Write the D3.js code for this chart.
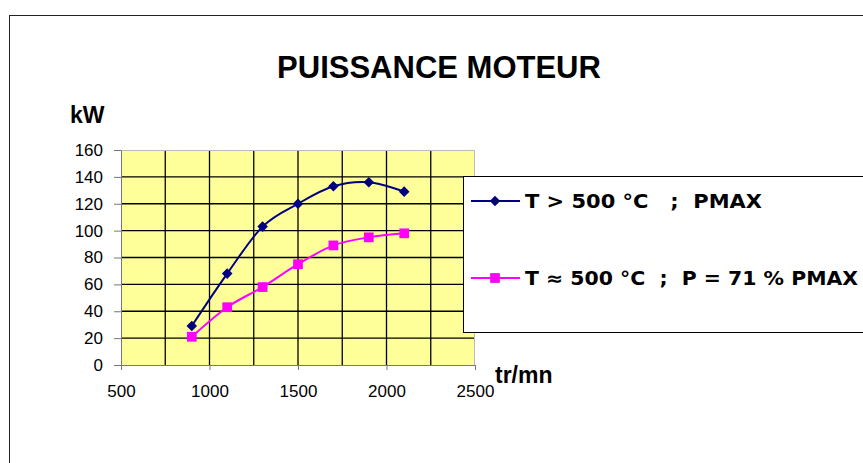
<!DOCTYPE html>
<html>
<head>
<meta charset="utf-8">
<script src="https://cdn.jsdelivr.net/npm/d3@7"></script>
<style>
  body { margin: 0; background: #fff; }
  svg { display: block; }
</style>
</head>
<body>
<div id="chart"></div>
<script>
'use strict';

// values
var regimes = [900, 1100, 1300, 1500, 1700, 1900, 2100];   // tr/mn
var pmax = [29, 68, 103, 120, 133, 136, 129];              // kW, T > 500 °C
var p71 = [21, 43, 58, 75, 89, 95, 98];                    // kW, T ≈ 500 °C
var seriesNames = ['T > 500 °C   ;  PMAX', 'T ≈ 500 °C  ;  P = 71 % PMAX'];
var xTicks = [500, 1000, 1500, 2000, 2500];
var yTicks = [0, 20, 40, 60, 80, 100, 120, 140, 160];

var W = 863, H = 463;
var plot = {left: 121, right: 475, top: 150, bottom: 365};
var FONT = '"Liberation Sans", Arial, sans-serif';

var svg = d3.select('#chart').append('svg')
  .attr('width', W).attr('height', H);

// outer chart frame (runs past the window on the right and bottom)
svg.append('rect')
  .attr('x', 9.5).attr('y', 15.5).attr('width', 900).attr('height', 500)
  .attr('fill', '#fff').attr('stroke', '#222').attr('stroke-width', 1);

svg.append('text')
  .attr('x', 439).attr('y', 77.5)
  .attr('text-anchor', 'middle')
  .style('font-family', FONT)
  .style('font-weight', 'bold').style('font-size', '31px')
  .text('PUISSANCE MOTEUR');

svg.append('text')
  .attr('x', 70).attr('y', 123)
  .style('font-family', FONT)
  .style('font-weight', 'bold').style('font-size', '23px')
  .text('kW');

svg.append('text')
  .attr('x', 495).attr('y', 383)
  .style('font-family', FONT)
  .style('font-weight', 'bold').style('font-size', '23px')
  .text('tr/mn');

var x = d3.scaleLinear().domain([500, 2500]).range([plot.left, plot.right]);
var y = d3.scaleLinear().domain([0, 160]).range([plot.bottom, plot.top]);

// plot area
svg.append('rect')
  .attr('x', plot.left).attr('y', plot.top)
  .attr('width', plot.right - plot.left).attr('height', plot.bottom - plot.top)
  .attr('fill', '#ffff99');

// grid
var grid = svg.append('g').attr('stroke', '#000').attr('stroke-width', 1.3);
grid.selectAll('line.v').data(d3.range(750, 2500, 250)).enter().append('line')
  .attr('x1', d => x(d)).attr('x2', d => x(d))
  .attr('y1', plot.top).attr('y2', plot.bottom);
grid.selectAll('line.h').data(yTicks.filter(d => d > 0 && d < 160)).enter().append('line')
  .attr('x1', plot.left).attr('x2', plot.right)
  .attr('y1', d => y(d)).attr('y2', d => y(d));

// plot area border (top/right light grey)
svg.append('path')
  .attr('d', 'M' + plot.left + ',' + (plot.top + 0.5) + 'H' + (plot.right - 0.5) + 'V' + plot.bottom)
  .attr('fill', 'none').attr('stroke', '#bbb').attr('stroke-width', 1);

// axes
var xAxis = svg.append('g')
  .attr('transform', 'translate(0,' + plot.bottom + ')')
  .call(d3.axisBottom(x).tickValues(xTicks).tickFormat(d3.format('d'))
    .tickSize(5).tickPadding(15).tickSizeOuter(0));
var yAxis = svg.append('g')
  .attr('transform', 'translate(' + plot.left + ',0)')
  .call(d3.axisLeft(y).tickValues(yTicks).tickFormat(d3.format('d'))
    .tickSize(7).tickPadding(11).tickSizeOuter(0));

[xAxis, yAxis].forEach(function(a) {
  a.selectAll('path, line').attr('stroke', '#777');
  a.selectAll('text')
    .attr('fill', '#000')
    .style('font-family', FONT)
    .style('font-size', '17px');
});

// series
var line = d3.line()
  .x(d => x(d[0])).y(d => y(d[1]))
  .curve(d3.curveCatmullRom.alpha(0));

var series = [
  {values: pmax, color: '#000080', marker: d3.symbolSquare, size: 56, rotate: 45},
  {values: p71, color: '#ff00ff', marker: d3.symbolSquare, size: 95, rotate: 0}
];

series.forEach(function(s) {
  var pts = regimes.map((r, i) => [r, s.values[i]]);
  svg.append('path')
    .datum(pts)
    .attr('d', line)
    .attr('fill', 'none').attr('stroke', s.color).attr('stroke-width', 2);
  svg.selectAll(null).data(pts).enter().append('path')
    .attr('transform', d => 'translate(' + x(d[0]) + ',' + y(d[1]) + ') rotate(' + s.rotate + ')')
    .attr('d', d3.symbol().type(s.marker).size(s.size))
    .attr('fill', s.color);
});

// legend
var legend = svg.append('g');
legend.append('rect')
  .attr('x', 463.5).attr('y', 176.5).attr('width', 420).attr('height', 156)
  .attr('fill', '#fff').attr('stroke', '#000').attr('stroke-width', 1);

var legendY = [201, 278];
var legendW = [237, 333];
series.forEach(function(s, i) {
  legend.append('line')
    .attr('x1', 471).attr('x2', 520).attr('y1', legendY[i]).attr('y2', legendY[i])
    .attr('stroke', s.color).attr('stroke-width', 2);
  legend.append('path')
    .attr('transform', 'translate(495,' + legendY[i] + ') rotate(' + s.rotate + ')')
    .attr('d', d3.symbol().type(s.marker).size(s.size))
    .attr('fill', s.color);
  legend.append('text')
    .attr('x', 525).attr('y', legendY[i] + 7)
    .attr('textLength', legendW[i]).attr('lengthAdjust', 'spacingAndGlyphs')
    .attr('xml:space', 'preserve')
    .style('white-space', 'pre')
    .style('font-family', '"Comic Sans MS", "DejaVu Sans", sans-serif')
    .style('font-weight', 'bold').style('font-size', '19px')
    .text(seriesNames[i]);
});
</script>
</body>
</html>
